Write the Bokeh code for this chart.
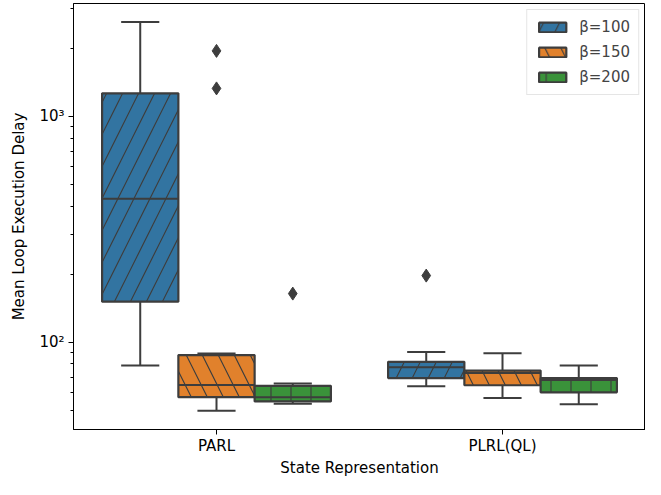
from bokeh.plotting import figure
from bokeh.models import ColumnDataSource, FactorRange, FixedTicker, Legend, LegendItem, Range1d
from bokeh.transform import dodge
from bokeh.embed import file_html
from bokeh.resources import INLINE

categories = ["PARL", "PLRL(QL)"]
hue_labels = ["β=100", "β=150", "β=200"]

low_100 = [78.8, 63.8]
q1_100 = [151.0, 69.3]
med_100 = [431.0, 77.3]
q3_100 = [1265.0, 81.8]
high_100 = [2620.0, 90.3]

low_150 = [49.6, 56.6]
q1_150 = [57.0, 64.4]
med_150 = [64.6, 73.0]
q3_150 = [87.6, 74.8]
high_150 = [89.0, 89.3]

low_200 = [53.3, 53.0]
q1_200 = [54.6, 59.9]
med_200 = [57.0, 67.9]
q3_200 = [64.0, 69.3]
high_200 = [65.5, 78.8]

out_cat_100 = ["PLRL(QL)"]
out_val_100 = [197.0]
out_cat_150 = ["PARL", "PARL"]
out_val_150 = [1950.0, 1330.0]
out_cat_200 = ["PARL"]
out_val_200 = [164.0]

colors = ["#3274a1", "#e1812c", "#3a923a"]
hatches = ["/", "\\", "|"]
hatch_scales = [32, 32, 20]
edge = "#3d3d3d"
FONT = "DejaVu Sans"

p = figure(width=645, height=479, output_backend="svg", toolbar_location=None,
           x_range=FactorRange(*categories, range_padding=0),
           y_range=Range1d(41, 3162), y_axis_type="log",
           min_border_left=73, min_border_right=0, min_border_top=3, min_border_bottom=0)

series = [
    (low_100, q1_100, med_100, q3_100, high_100, out_cat_100, out_val_100),
    (low_150, q1_150, med_150, q3_150, high_150, out_cat_150, out_val_150),
    (low_200, q1_200, med_200, q3_200, high_200, out_cat_200, out_val_200),
]
bw = 0.8 / 3
offsets = [-bw, 0.0, bw]
items = []
for i, (lo, q1, md, q3, hi, oc, ov) in enumerate(series):
    off = offsets[i]
    src = ColumnDataSource(dict(cat=categories, lo=lo, q1=q1, md=md, q3=q3, hi=hi))
    xc = dodge("cat", off, range=p.x_range)
    xl = dodge("cat", off - bw / 4, range=p.x_range)
    xr = dodge("cat", off + bw / 4, range=p.x_range)
    bl = dodge("cat", off - bw / 2, range=p.x_range)
    br = dodge("cat", off + bw / 2, range=p.x_range)
    p.segment(x0=xc, y0="lo", x1=xc, y1="q1", source=src, line_color=edge, line_width=2)
    p.segment(x0=xc, y0="q3", x1=xc, y1="hi", source=src, line_color=edge, line_width=2)
    p.segment(x0=xl, y0="lo", x1=xr, y1="lo", source=src, line_color=edge, line_width=2)
    p.segment(x0=xl, y0="hi", x1=xr, y1="hi", source=src, line_color=edge, line_width=2)
    r = p.vbar(x=xc, width=bw, bottom="q1", top="q3", source=src,
               fill_color=colors[i], line_color=edge, line_width=2.2,
               hatch_pattern=hatches[i], hatch_color=edge, hatch_weight=1.2,
               hatch_scale=hatch_scales[i])
    p.segment(x0=bl, y0="md", x1=br, y1="md", source=src, line_color=edge, line_width=2)
    osrc = ColumnDataSource(dict(cat=oc, v=ov))
    p.scatter(x=dodge("cat", off, range=p.x_range), y="v", source=osrc, marker="diamond",
              size=13, fill_color=edge, line_color=edge)
    items.append(LegendItem(label=hue_labels[i], renderers=[r]))

legend = Legend(items=items, location="top_right", glyph_width=34, glyph_height=12,
                label_text_font=FONT, label_text_font_size="15px", spacing=7,
                border_line_color="#cccccc", border_line_width=1, background_fill_alpha=0.8,
                padding=8, margin=6, label_standoff=10)
p.add_layout(legend)

p.yaxis.ticker = FixedTicker(ticks=[100, 1000],
                             minor_ticks=[40, 50, 60, 70, 80, 90, 200, 300, 400, 500, 600, 700, 800, 900, 2000, 3000])
p.yaxis.major_label_overrides = {100: "10²", 1000: "10³"}

p.xgrid.visible = False
p.ygrid.visible = False
p.outline_line_color = "black"
p.outline_line_width = 1
p.outline_line_alpha = 1

for ax in (p.xaxis, p.yaxis):
    ax.axis_line_color = "black"
    ax.major_tick_line_color = "black"
    ax.minor_tick_line_color = "black"
    ax.major_tick_out = 5
    ax.major_tick_in = 0
    ax.minor_tick_out = 3
    ax.minor_tick_in = 0
    ax.major_label_text_font = FONT
    ax.major_label_text_font_size = "15px"
    ax.major_label_text_color = "black"
    ax.axis_label_text_font = FONT
    ax.axis_label_text_font_size = "15px"
    ax.axis_label_text_font_style = "normal"
    ax.axis_label_text_color = "black"

p.xaxis.axis_label = "State Representation"
p.yaxis.axis_label = "Mean Loop Execution Delay"
p.xaxis.major_label_standoff = 2
p.xaxis.axis_label_standoff = 1
p.yaxis.major_label_standoff = 4
p.yaxis.axis_label_standoff = 8

open("out.html", "w").write(file_html(p, INLINE))
